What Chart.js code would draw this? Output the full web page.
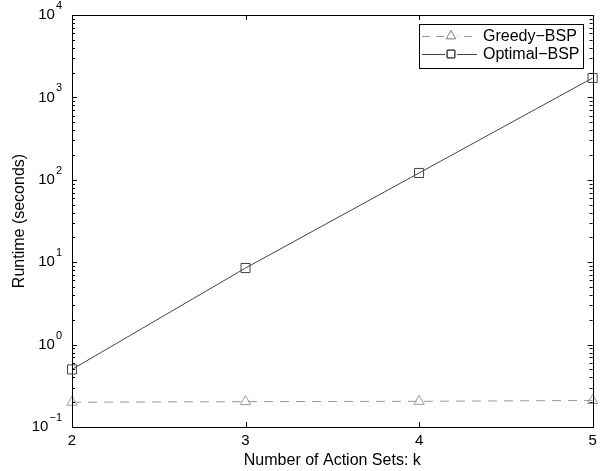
<!DOCTYPE html>
<html>
<head>
<meta charset="utf-8">
<script src="https://cdn.jsdelivr.net/npm/chart.js@4.4.0/dist/chart.umd.min.js"></script>
<style>
  html, body { margin: 0; padding: 0; background: #fff; }
  #wrap { width: 600px; height: 471px; }
</style>
</head>
<body>
<div id="wrap"><canvas id="chart"></canvas></div>
<script>
const actionSets = [2, 3, 4, 5];
const greedyRuntime = [0.20, 0.203, 0.205, 0.21];
const optimalRuntime = [0.5, 8.5, 121, 1720];
const seriesNames = ['Greedy\u2212BSP', 'Optimal\u2212BSP'];
const xTicks = [2, 3, 4, 5];
const yExponents = [-1, 0, 1, 2, 3, 4];

const FONT = '"Liberation Sans", Arial, sans-serif';

// frame, inward ticks, tick labels, titles and legend in MATLAB style
const matlabAxes = {
    id: 'matlabAxes',
    afterDraw(chart) {
        const ctx = chart.ctx;
        const a = chart.chartArea;
        const xs = chart.scales.x;
        const ys = chart.scales.y;
        ctx.save();
        ctx.strokeStyle = '#000';
        ctx.lineWidth = 1;
        ctx.strokeRect(Math.round(a.left) + 0.5, Math.round(a.top) + 0.5,
            Math.round(a.right - a.left), Math.round(a.bottom - a.top));

        ctx.beginPath();
        xTicks.forEach(v => {
            const px = Math.round(xs.getPixelForValue(v)) + 0.5;
            ctx.moveTo(px, a.bottom); ctx.lineTo(px, a.bottom - 5);
            ctx.moveTo(px, a.top); ctx.lineTo(px, a.top + 5);
        });
        yExponents.forEach(e => {
            for (let m = 1; m <= 9; m++) {
                const v = m * Math.pow(10, e);
                if (v > 10000.001) break;
                const py = Math.round(ys.getPixelForValue(v)) + 0.5;
                const len = m === 1 ? 5 : 3;
                ctx.moveTo(a.left, py); ctx.lineTo(a.left + len, py);
                ctx.moveTo(a.right, py); ctx.lineTo(a.right - len, py);
            }
        });
        ctx.stroke();

        ctx.fillStyle = '#000';
        ctx.font = '15px ' + FONT;
        ctx.textAlign = 'center';
        ctx.textBaseline = 'top';
        xTicks.forEach(v => {
            ctx.fillText(String(v), xs.getPixelForValue(v), a.bottom + 6);
        });

        yExponents.forEach(e => {
            const py = ys.getPixelForValue(Math.pow(10, e));
            const sup = String(e).replace('-', '\u2212');
            ctx.font = '11px ' + FONT;
            const supW = ctx.measureText(sup).width;
            ctx.textAlign = 'right';
            ctx.textBaseline = 'middle';
            ctx.fillText(sup, a.left - 10, py - 9);
            ctx.font = '15px ' + FONT;
            ctx.fillText('10', a.left - 11 - supW, py);
        });

        ctx.font = '16px ' + FONT;
        ctx.textAlign = 'center';
        ctx.textBaseline = 'middle';
        ctx.fillText('Number of Action Sets: k', (a.left + a.right) / 2, 461);
        ctx.save();
        ctx.translate(20, (a.top + a.bottom) / 2);
        ctx.rotate(-Math.PI / 2);
        ctx.fillText('Runtime (seconds)', 0, 0);
        ctx.restore();

        // legend
        const lx = 419, ly = 24, lw = 164, lh = 44;
        ctx.fillStyle = '#fff';
        ctx.fillRect(lx, ly, lw, lh);
        ctx.strokeStyle = '#000';
        ctx.strokeRect(lx + 0.5, ly + 0.5, lw, lh);
        const rows = [
            { label: seriesNames[0], color: '#999', dash: [8, 6], style: 'triangle', y: ly + 12 },
            { label: seriesNames[1], color: '#444', dash: [], style: 'rect', y: ly + 30 }
        ];
        rows.forEach(r => {
            ctx.strokeStyle = r.color;
            ctx.setLineDash(r.dash);
            ctx.beginPath();
            ctx.moveTo(lx + 3, r.y + 0.5);
            ctx.lineTo(lx + 58, r.y + 0.5);
            ctx.stroke();
            ctx.setLineDash([]);
            ctx.fillStyle = '#fff';
            ctx.fillRect(lx + 26, r.y - 5, 12, 10);
            Chart.helpers.drawPoint(ctx, {
                pointStyle: r.style, radius: r.style === 'rect' ? 5.5 : 5.5,
                borderWidth: 1, rotation: 0
            }, lx + 32, r.y);
            ctx.stroke();
            ctx.fillStyle = '#000';
            ctx.textAlign = 'left';
            ctx.textBaseline = 'middle';
            ctx.font = '16px ' + FONT;
            ctx.fillText(r.label, lx + 64, r.y + 1);
        });
        ctx.restore();
    }
};

new Chart(document.getElementById('chart'), {
    type: 'line',
    data: {
        datasets: [{
            label: seriesNames[0],
            data: actionSets.map((k, i) => ({ x: k, y: greedyRuntime[i] })),
            borderColor: '#999',
            borderWidth: 1,
            borderDash: [9, 7],
            pointStyle: 'triangle',
            pointRadius: 6,
            pointBorderColor: '#999',
            pointBackgroundColor: 'rgba(0,0,0,0)',
            pointBorderWidth: 1,
            clip: false
        }, {
            label: seriesNames[1],
            data: actionSets.map((k, i) => ({ x: k, y: optimalRuntime[i] })),
            borderColor: '#444',
            borderWidth: 1,
            pointStyle: 'rect',
            pointRadius: 6.4,
            pointBorderColor: '#444',
            pointBackgroundColor: 'rgba(0,0,0,0)',
            pointBorderWidth: 1,
            clip: false
        }]
    },
    options: {
        responsive: true,
        maintainAspectRatio: false,
        animation: false,
        layout: { padding: { left: 72, right: 6, top: 15, bottom: 44 } },
        plugins: { legend: { display: false }, tooltip: { enabled: false } },
        scales: {
            x: { type: 'linear', min: 2, max: 5, display: false },
            y: { type: 'logarithmic', min: 0.1, max: 10000, display: false }
        }
    },
    plugins: [matlabAxes]
});
</script>
</body>
</html>
